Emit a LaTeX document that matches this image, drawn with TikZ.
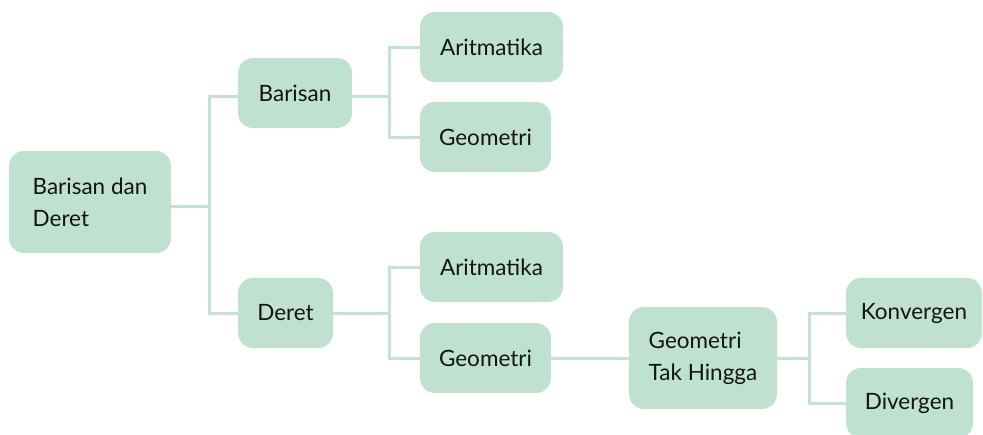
\documentclass[tikz,border=0pt]{standalone}
\usepackage{fontspec}
\setmainfont{Lato}
\definecolor{boxgreen}{HTML}{BFE1D0}
\definecolor{linegreen}{HTML}{C2E2D3}
\definecolor{txt}{HTML}{141414}
\begin{document}
\begin{tikzpicture}[x=1pt,y=-1pt,
  box/.style={rectangle, rounded corners=15pt, fill=boxgreen, text=txt, inner sep=0pt,
    font=\fontsize{22.5}{32}\selectfont, align=left},
  conn/.style={draw=linegreen, line width=3pt}]
\useasboundingbox (0,0) rectangle (983,434);
\begin{scope}
\clip (0,0) rectangle (983,434);
\node[box, minimum width=162pt, minimum height=102pt] (root) at (90,202) {Barisan dan\\Deret};
\node[box, minimum width=114pt, minimum height=70pt] (barisan) at (295,93) {Barisan};
\node[box, minimum width=95pt, minimum height=70pt] (deret) at (285.5,313) {Deret};
\node[box, minimum width=143pt, minimum height=70pt] (arit1) at (491.5,47) {Aritmatika};
\node[box, minimum width=131pt, minimum height=70pt] (geo1) at (485.5,137) {Geometri};
\node[box, minimum width=143pt, minimum height=70pt] (arit2) at (491.5,267) {Aritmatika};
\node[box, minimum width=131pt, minimum height=70pt] (geo2) at (485.5,358) {Geometri};
\node[box, minimum width=148pt, minimum height=102pt] (gth) at (703,358) {Geometri\\Tak Hingga};
\node[box, minimum width=136pt, minimum height=70pt] (konv) at (914,313) {Konvergen};
\node[box, minimum width=127pt, minimum height=70pt] (div) at (909.5,403) {Divergen};
\end{scope}
\coordinate (j1) at (209,0);
\coordinate (j2) at (389,0);
\coordinate (j3) at (809,0);
\draw[conn] ([yshift=-4pt]root.east) -- ([yshift=-4pt]root.east -| j1);
\draw[conn] ([yshift=-3pt]barisan.west) -- ([yshift=-3pt]barisan.west -| j1) |- (deret.west);
\draw[conn] ([yshift=-3pt]barisan.east) -- ([yshift=-3pt]barisan.east -| j2);
\draw[conn] (arit1.west) -- (arit1.west -| j2) |- (geo1.west);
\draw[conn] (deret.east) -- (deret.east -| j2);
\draw[conn] (arit2.west) -- (arit2.west -| j2) |- (geo2.west);
\draw[conn] (geo2.east) -- (gth.west);
\draw[conn] (gth.east) -- (gth.east -| j3);
\draw[conn] (konv.west) -- (konv.west -| j3) |- (div.west);
\end{tikzpicture}
\end{document}
